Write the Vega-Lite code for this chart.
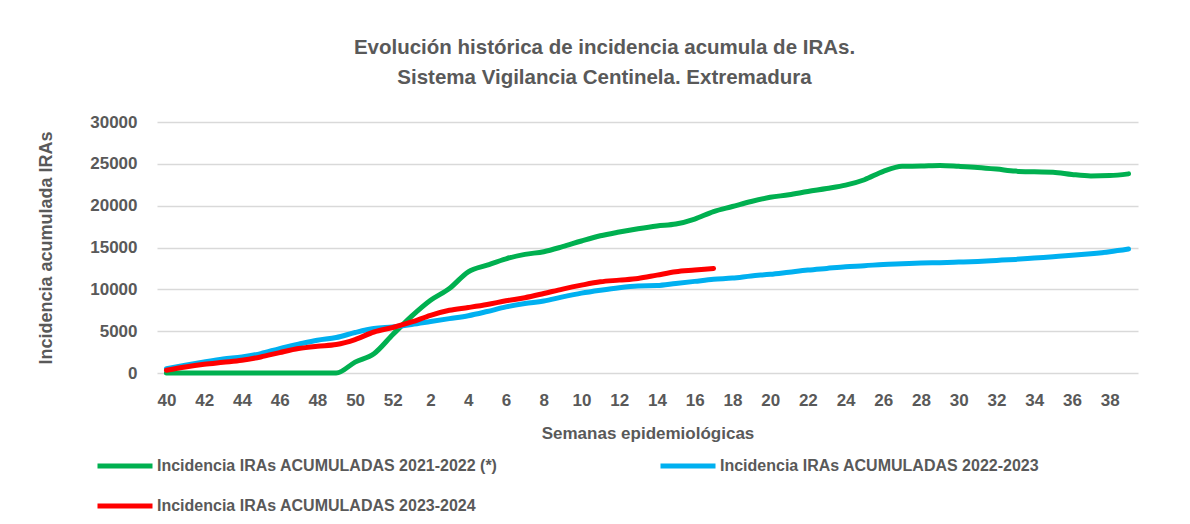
{
  "$schema": "https://vega.github.io/schema/vega-lite/v6.json",
  "autosize": {"type": "none"},
  "padding": {"left": 157, "top": 122, "right": 52, "bottom": 151},
  "width": 981,
  "height": 251,
  "background": "white",
  "title": {
    "text": ["Evolución histórica de incidencia acumula de IRAs.", "Sistema Vigilancia Centinela. Extremadura"],
    "font": "Liberation Sans",
    "fontSize": 20.5,
    "fontWeight": "bold",
    "color": "#595959",
    "lineHeight": 30,
    "anchor": "middle",
    "dx": -43,
    "offset": 25
  },
  "data": {
    "values": [
      {"semana": "40", "serie": "Incidencia IRAs ACUMULADAS 2021-2022 (*)", "valor": 0},
      {"semana": "41", "serie": "Incidencia IRAs ACUMULADAS 2021-2022 (*)", "valor": 0},
      {"semana": "42", "serie": "Incidencia IRAs ACUMULADAS 2021-2022 (*)", "valor": 0},
      {"semana": "43", "serie": "Incidencia IRAs ACUMULADAS 2021-2022 (*)", "valor": 0},
      {"semana": "44", "serie": "Incidencia IRAs ACUMULADAS 2021-2022 (*)", "valor": 0},
      {"semana": "45", "serie": "Incidencia IRAs ACUMULADAS 2021-2022 (*)", "valor": 0},
      {"semana": "46", "serie": "Incidencia IRAs ACUMULADAS 2021-2022 (*)", "valor": 0},
      {"semana": "47", "serie": "Incidencia IRAs ACUMULADAS 2021-2022 (*)", "valor": 0},
      {"semana": "48", "serie": "Incidencia IRAs ACUMULADAS 2021-2022 (*)", "valor": 0},
      {"semana": "49", "serie": "Incidencia IRAs ACUMULADAS 2021-2022 (*)", "valor": 0},
      {"semana": "50", "serie": "Incidencia IRAs ACUMULADAS 2021-2022 (*)", "valor": 1300},
      {"semana": "51", "serie": "Incidencia IRAs ACUMULADAS 2021-2022 (*)", "valor": 2300},
      {"semana": "52", "serie": "Incidencia IRAs ACUMULADAS 2021-2022 (*)", "valor": 4600},
      {"semana": "1", "serie": "Incidencia IRAs ACUMULADAS 2021-2022 (*)", "valor": 6800},
      {"semana": "2", "serie": "Incidencia IRAs ACUMULADAS 2021-2022 (*)", "valor": 8700},
      {"semana": "3", "serie": "Incidencia IRAs ACUMULADAS 2021-2022 (*)", "valor": 10100},
      {"semana": "4", "serie": "Incidencia IRAs ACUMULADAS 2021-2022 (*)", "valor": 12100},
      {"semana": "5", "serie": "Incidencia IRAs ACUMULADAS 2021-2022 (*)", "valor": 12900},
      {"semana": "6", "serie": "Incidencia IRAs ACUMULADAS 2021-2022 (*)", "valor": 13650},
      {"semana": "7", "serie": "Incidencia IRAs ACUMULADAS 2021-2022 (*)", "valor": 14180},
      {"semana": "8", "serie": "Incidencia IRAs ACUMULADAS 2021-2022 (*)", "valor": 14500},
      {"semana": "9", "serie": "Incidencia IRAs ACUMULADAS 2021-2022 (*)", "valor": 15100},
      {"semana": "10", "serie": "Incidencia IRAs ACUMULADAS 2021-2022 (*)", "valor": 15780},
      {"semana": "11", "serie": "Incidencia IRAs ACUMULADAS 2021-2022 (*)", "valor": 16400},
      {"semana": "12", "serie": "Incidencia IRAs ACUMULADAS 2021-2022 (*)", "valor": 16850},
      {"semana": "13", "serie": "Incidencia IRAs ACUMULADAS 2021-2022 (*)", "valor": 17250},
      {"semana": "14", "serie": "Incidencia IRAs ACUMULADAS 2021-2022 (*)", "valor": 17580},
      {"semana": "15", "serie": "Incidencia IRAs ACUMULADAS 2021-2022 (*)", "valor": 17800},
      {"semana": "16", "serie": "Incidencia IRAs ACUMULADAS 2021-2022 (*)", "valor": 18400},
      {"semana": "17", "serie": "Incidencia IRAs ACUMULADAS 2021-2022 (*)", "valor": 19300},
      {"semana": "18", "serie": "Incidencia IRAs ACUMULADAS 2021-2022 (*)", "valor": 19900},
      {"semana": "19", "serie": "Incidencia IRAs ACUMULADAS 2021-2022 (*)", "valor": 20500},
      {"semana": "20", "serie": "Incidencia IRAs ACUMULADAS 2021-2022 (*)", "valor": 21000},
      {"semana": "21", "serie": "Incidencia IRAs ACUMULADAS 2021-2022 (*)", "valor": 21300},
      {"semana": "22", "serie": "Incidencia IRAs ACUMULADAS 2021-2022 (*)", "valor": 21700},
      {"semana": "23", "serie": "Incidencia IRAs ACUMULADAS 2021-2022 (*)", "valor": 22050},
      {"semana": "24", "serie": "Incidencia IRAs ACUMULADAS 2021-2022 (*)", "valor": 22450},
      {"semana": "25", "serie": "Incidencia IRAs ACUMULADAS 2021-2022 (*)", "valor": 23100},
      {"semana": "26", "serie": "Incidencia IRAs ACUMULADAS 2021-2022 (*)", "valor": 24100},
      {"semana": "27", "serie": "Incidencia IRAs ACUMULADAS 2021-2022 (*)", "valor": 24700},
      {"semana": "28", "serie": "Incidencia IRAs ACUMULADAS 2021-2022 (*)", "valor": 24730},
      {"semana": "29", "serie": "Incidencia IRAs ACUMULADAS 2021-2022 (*)", "valor": 24800},
      {"semana": "30", "serie": "Incidencia IRAs ACUMULADAS 2021-2022 (*)", "valor": 24700},
      {"semana": "31", "serie": "Incidencia IRAs ACUMULADAS 2021-2022 (*)", "valor": 24570},
      {"semana": "32", "serie": "Incidencia IRAs ACUMULADAS 2021-2022 (*)", "valor": 24370},
      {"semana": "33", "serie": "Incidencia IRAs ACUMULADAS 2021-2022 (*)", "valor": 24130},
      {"semana": "34", "serie": "Incidencia IRAs ACUMULADAS 2021-2022 (*)", "valor": 24050},
      {"semana": "35", "serie": "Incidencia IRAs ACUMULADAS 2021-2022 (*)", "valor": 24000},
      {"semana": "36", "serie": "Incidencia IRAs ACUMULADAS 2021-2022 (*)", "valor": 23730},
      {"semana": "37", "serie": "Incidencia IRAs ACUMULADAS 2021-2022 (*)", "valor": 23560},
      {"semana": "38", "serie": "Incidencia IRAs ACUMULADAS 2021-2022 (*)", "valor": 23600},
      {"semana": "39", "serie": "Incidencia IRAs ACUMULADAS 2021-2022 (*)", "valor": 23800},
      {"semana": "40", "serie": "Incidencia IRAs ACUMULADAS 2022-2023", "valor": 520},
      {"semana": "41", "serie": "Incidencia IRAs ACUMULADAS 2022-2023", "valor": 920},
      {"semana": "42", "serie": "Incidencia IRAs ACUMULADAS 2022-2023", "valor": 1320},
      {"semana": "43", "serie": "Incidencia IRAs ACUMULADAS 2022-2023", "valor": 1680},
      {"semana": "44", "serie": "Incidencia IRAs ACUMULADAS 2022-2023", "valor": 1920},
      {"semana": "45", "serie": "Incidencia IRAs ACUMULADAS 2022-2023", "valor": 2320},
      {"semana": "46", "serie": "Incidencia IRAs ACUMULADAS 2022-2023", "valor": 2920},
      {"semana": "47", "serie": "Incidencia IRAs ACUMULADAS 2022-2023", "valor": 3440},
      {"semana": "48", "serie": "Incidencia IRAs ACUMULADAS 2022-2023", "valor": 3920},
      {"semana": "49", "serie": "Incidencia IRAs ACUMULADAS 2022-2023", "valor": 4240},
      {"semana": "50", "serie": "Incidencia IRAs ACUMULADAS 2022-2023", "valor": 4840},
      {"semana": "51", "serie": "Incidencia IRAs ACUMULADAS 2022-2023", "valor": 5320},
      {"semana": "52", "serie": "Incidencia IRAs ACUMULADAS 2022-2023", "valor": 5510},
      {"semana": "1", "serie": "Incidencia IRAs ACUMULADAS 2022-2023", "valor": 5800},
      {"semana": "2", "serie": "Incidencia IRAs ACUMULADAS 2022-2023", "valor": 6150},
      {"semana": "3", "serie": "Incidencia IRAs ACUMULADAS 2022-2023", "valor": 6500},
      {"semana": "4", "serie": "Incidencia IRAs ACUMULADAS 2022-2023", "valor": 6850},
      {"semana": "5", "serie": "Incidencia IRAs ACUMULADAS 2022-2023", "valor": 7350},
      {"semana": "6", "serie": "Incidencia IRAs ACUMULADAS 2022-2023", "valor": 7900},
      {"semana": "7", "serie": "Incidencia IRAs ACUMULADAS 2022-2023", "valor": 8300},
      {"semana": "8", "serie": "Incidencia IRAs ACUMULADAS 2022-2023", "valor": 8600},
      {"semana": "9", "serie": "Incidencia IRAs ACUMULADAS 2022-2023", "valor": 9100},
      {"semana": "10", "serie": "Incidencia IRAs ACUMULADAS 2022-2023", "valor": 9550},
      {"semana": "11", "serie": "Incidencia IRAs ACUMULADAS 2022-2023", "valor": 9900},
      {"semana": "12", "serie": "Incidencia IRAs ACUMULADAS 2022-2023", "valor": 10200},
      {"semana": "13", "serie": "Incidencia IRAs ACUMULADAS 2022-2023", "valor": 10400},
      {"semana": "14", "serie": "Incidencia IRAs ACUMULADAS 2022-2023", "valor": 10450},
      {"semana": "15", "serie": "Incidencia IRAs ACUMULADAS 2022-2023", "valor": 10700},
      {"semana": "16", "serie": "Incidencia IRAs ACUMULADAS 2022-2023", "valor": 10950},
      {"semana": "17", "serie": "Incidencia IRAs ACUMULADAS 2022-2023", "valor": 11200},
      {"semana": "18", "serie": "Incidencia IRAs ACUMULADAS 2022-2023", "valor": 11350},
      {"semana": "19", "serie": "Incidencia IRAs ACUMULADAS 2022-2023", "valor": 11600},
      {"semana": "20", "serie": "Incidencia IRAs ACUMULADAS 2022-2023", "valor": 11800},
      {"semana": "21", "serie": "Incidencia IRAs ACUMULADAS 2022-2023", "valor": 12050},
      {"semana": "22", "serie": "Incidencia IRAs ACUMULADAS 2022-2023", "valor": 12300},
      {"semana": "23", "serie": "Incidencia IRAs ACUMULADAS 2022-2023", "valor": 12500},
      {"semana": "24", "serie": "Incidencia IRAs ACUMULADAS 2022-2023", "valor": 12700},
      {"semana": "25", "serie": "Incidencia IRAs ACUMULADAS 2022-2023", "valor": 12820},
      {"semana": "26", "serie": "Incidencia IRAs ACUMULADAS 2022-2023", "valor": 12980},
      {"semana": "27", "serie": "Incidencia IRAs ACUMULADAS 2022-2023", "valor": 13060},
      {"semana": "28", "serie": "Incidencia IRAs ACUMULADAS 2022-2023", "valor": 13140},
      {"semana": "29", "serie": "Incidencia IRAs ACUMULADAS 2022-2023", "valor": 13180},
      {"semana": "30", "serie": "Incidencia IRAs ACUMULADAS 2022-2023", "valor": 13260},
      {"semana": "31", "serie": "Incidencia IRAs ACUMULADAS 2022-2023", "valor": 13340},
      {"semana": "32", "serie": "Incidencia IRAs ACUMULADAS 2022-2023", "valor": 13460},
      {"semana": "33", "serie": "Incidencia IRAs ACUMULADAS 2022-2023", "valor": 13580},
      {"semana": "34", "serie": "Incidencia IRAs ACUMULADAS 2022-2023", "valor": 13740},
      {"semana": "35", "serie": "Incidencia IRAs ACUMULADAS 2022-2023", "valor": 13900},
      {"semana": "36", "serie": "Incidencia IRAs ACUMULADAS 2022-2023", "valor": 14060},
      {"semana": "37", "serie": "Incidencia IRAs ACUMULADAS 2022-2023", "valor": 14260},
      {"semana": "38", "serie": "Incidencia IRAs ACUMULADAS 2022-2023", "valor": 14500},
      {"semana": "39", "serie": "Incidencia IRAs ACUMULADAS 2022-2023", "valor": 14820},
      {"semana": "40", "serie": "Incidencia IRAs ACUMULADAS 2023-2024", "valor": 320},
      {"semana": "41", "serie": "Incidencia IRAs ACUMULADAS 2023-2024", "valor": 720},
      {"semana": "42", "serie": "Incidencia IRAs ACUMULADAS 2023-2024", "valor": 1040},
      {"semana": "43", "serie": "Incidencia IRAs ACUMULADAS 2023-2024", "valor": 1280},
      {"semana": "44", "serie": "Incidencia IRAs ACUMULADAS 2023-2024", "valor": 1520},
      {"semana": "45", "serie": "Incidencia IRAs ACUMULADAS 2023-2024", "valor": 1920},
      {"semana": "46", "serie": "Incidencia IRAs ACUMULADAS 2023-2024", "valor": 2440},
      {"semana": "47", "serie": "Incidencia IRAs ACUMULADAS 2023-2024", "valor": 2920},
      {"semana": "48", "serie": "Incidencia IRAs ACUMULADAS 2023-2024", "valor": 3200},
      {"semana": "49", "serie": "Incidencia IRAs ACUMULADAS 2023-2024", "valor": 3400},
      {"semana": "50", "serie": "Incidencia IRAs ACUMULADAS 2023-2024", "valor": 4000},
      {"semana": "51", "serie": "Incidencia IRAs ACUMULADAS 2023-2024", "valor": 4900},
      {"semana": "52", "serie": "Incidencia IRAs ACUMULADAS 2023-2024", "valor": 5440},
      {"semana": "1", "serie": "Incidencia IRAs ACUMULADAS 2023-2024", "valor": 6100},
      {"semana": "2", "serie": "Incidencia IRAs ACUMULADAS 2023-2024", "valor": 6900},
      {"semana": "3", "serie": "Incidencia IRAs ACUMULADAS 2023-2024", "valor": 7500},
      {"semana": "4", "serie": "Incidencia IRAs ACUMULADAS 2023-2024", "valor": 7830},
      {"semana": "5", "serie": "Incidencia IRAs ACUMULADAS 2023-2024", "valor": 8190},
      {"semana": "6", "serie": "Incidencia IRAs ACUMULADAS 2023-2024", "valor": 8630},
      {"semana": "7", "serie": "Incidencia IRAs ACUMULADAS 2023-2024", "valor": 9000},
      {"semana": "8", "serie": "Incidencia IRAs ACUMULADAS 2023-2024", "valor": 9500},
      {"semana": "9", "serie": "Incidencia IRAs ACUMULADAS 2023-2024", "valor": 10030},
      {"semana": "10", "serie": "Incidencia IRAs ACUMULADAS 2023-2024", "valor": 10500},
      {"semana": "11", "serie": "Incidencia IRAs ACUMULADAS 2023-2024", "valor": 10900},
      {"semana": "12", "serie": "Incidencia IRAs ACUMULADAS 2023-2024", "valor": 11100},
      {"semana": "13", "serie": "Incidencia IRAs ACUMULADAS 2023-2024", "valor": 11300},
      {"semana": "14", "serie": "Incidencia IRAs ACUMULADAS 2023-2024", "valor": 11700},
      {"semana": "15", "serie": "Incidencia IRAs ACUMULADAS 2023-2024", "valor": 12100},
      {"semana": "16", "serie": "Incidencia IRAs ACUMULADAS 2023-2024", "valor": 12300},
      {"semana": "17", "serie": "Incidencia IRAs ACUMULADAS 2023-2024", "valor": 12500}
    ]
  },
  "mark": {"type": "line", "interpolate": "monotone", "strokeWidth": 5, "strokeCap": "round"},
  "encoding": {
    "x": {
      "field": "semana",
      "type": "ordinal",
      "scale": {
        "type": "point",
        "padding": 0.5,
        "domain": ["40","41","42","43","44","45","46","47","48","49","50","51","52","1","2","3","4","5","6","7","8","9","10","11","12","13","14","15","16","17","18","19","20","21","22","23","24","25","26","27","28","29","30","31","32","33","34","35","36","37","38","39"]
      },
      "axis": {
        "title": "Semanas epidemiológicas",
        "values": ["40","42","44","46","48","50","52","2","4","6","8","10","12","14","16","18","20","22","24","26","28","30","32","34","36","38"],
        "labelAngle": 0,
        "domain": false,
        "ticks": false,
        "grid": false,
        "labelPadding": 19,
        "titlePadding": 17
      }
    },
    "y": {
      "field": "valor",
      "type": "quantitative",
      "scale": {"domain": [0, 30000]},
      "axis": {
        "title": "Incidencia acumulada IRAs",
        "titleFontSize": 18,
        "values": [0, 5000, 10000, 15000, 20000, 25000, 30000],
        "format": "d",
        "domain": false,
        "ticks": false,
        "grid": true,
        "labelPadding": 20,
        "titlePadding": 34
      }
    },
    "color": {
      "field": "serie",
      "type": "nominal",
      "scale": {
        "domain": ["Incidencia IRAs ACUMULADAS 2021-2022 (*)", "Incidencia IRAs ACUMULADAS 2022-2023", "Incidencia IRAs ACUMULADAS 2023-2024"],
        "range": ["#00b050", "#00b0f0", "#ff0000"]
      },
      "legend": {
        "title": null,
        "orient": "none",
        "direction": "horizontal",
        "legendX": -62,
        "legendY": 314,
        "columns": 2,
        "columnPadding": 152,
        "rowPadding": -5,
        "symbolType": "stroke",
        "symbolSize": 3025,
        "symbolStrokeWidth": 5,
        "labelOffset": 2,
        "labelFont": "Liberation Sans",
        "labelFontSize": 16,
        "labelFontWeight": "bold",
        "labelColor": "#595959",
        "labelLimit": 500
      }
    }
  },
  "config": {
    "view": {"stroke": null},
    "axis": {
      "labelFont": "Liberation Sans",
      "labelFontSize": 17,
      "labelFontWeight": "bold",
      "labelColor": "#595959",
      "titleFont": "Liberation Sans",
      "titleFontSize": 17,
      "titleFontWeight": "bold",
      "titleColor": "#595959",
      "gridColor": "#d9d9d9",
      "gridWidth": 1.3
    }
  }
}
